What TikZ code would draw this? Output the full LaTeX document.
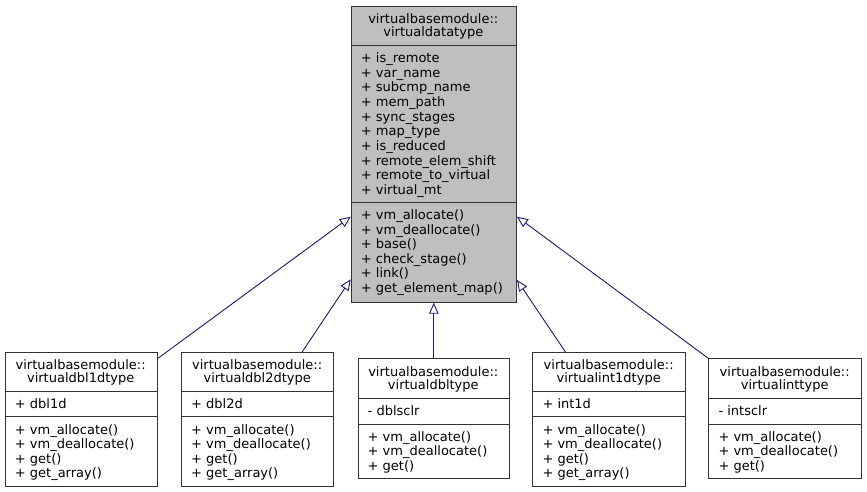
\documentclass[tikz,border=0pt]{standalone}
\usepackage{fontspec}
\setmainfont{DejaVu Sans}
\usetikzlibrary{arrows.meta}
\definecolor{edgeblue}{HTML}{191970}
\definecolor{hdrgray}{HTML}{BFBFBF}
\definecolor{bordercol}{HTML}{333333}
\tikzset{
  classbox/.style={draw=bordercol, line width=1pt, inner sep=0pt, anchor=north west},
  divider/.style={draw=bordercol, line width=1pt},
  lbl/.style={inner sep=0pt, font=\fontsize{13}{15}\selectfont},
  inherit/.style={draw=edgeblue, line width=0.9pt, -{Triangle[open, length=11pt, width=9.5pt]}},
}
\begin{document}
\begin{tikzpicture}[x=1pt,y=-1pt]
\useasboundingbox (0,0) rectangle (867,492);

% ---------------- base class ----------------
\node[classbox, fill=hdrgray, minimum width=165.3pt, minimum height=296pt] (base) at (350.7,5.7) {};
\draw[divider] (350.7,45.7) -- (516,45.7);
\draw[divider] (350.7,202.3) -- (516,202.3);
\node[lbl, anchor=base] (baseh1) at (433.3,23.8) {virtualbasemodule::};
\node[lbl, anchor=base] (baseh2) at (433.3,36.8) {virtualdatatype};
\foreach \t [count=\i from 0] in {{+ is\_remote},{+ var\_name},{+ subcmp\_name},{+ mem\_path},{+ sync\_stages},{+ map\_type},{+ is\_reduced},{+ remote\_elem\_shift},{+ remote\_to\_virtual},{+ virtual\_mt}}
  \node[lbl, anchor=base west] (basea\i) at (360.7,62.5+\i*14.65) {\t};
\foreach \t [count=\i from 0] in {{+ vm\_allocate()},{+ vm\_deallocate()},{+ base()},{+ check\_stage()},{+ link()},{+ get\_element\_map()}}
  \node[lbl, anchor=base west] (basem\i) at (360.7,219.5+\i*14.6) {\t};

% ---------------- virtualdbl1dtype ----------------
\node[classbox, fill=white, minimum width=152pt, minimum height=133.7pt] (c1) at (4.7,352) {};
\draw[divider] (4.7,391.5) -- (156.7,391.5);
\draw[divider] (4.7,416.7) -- (156.7,416.7);
\node[lbl, anchor=base] (c1h1) at (80.7,369.8) {virtualbasemodule::};
\node[lbl, anchor=base] (c1h2) at (80.7,382.8) {virtualdbl1dtype};
\node[lbl, anchor=base west] (c1a0) at (14.7,408.5) {+ dbl1d};
\foreach \t [count=\i from 0] in {{+ vm\_allocate()},{+ vm\_deallocate()},{+ get()},{+ get\_array()}}
  \node[lbl, anchor=base west] (c1m\i) at (14.7,434+\i*14.5) {\t};

% ---------------- virtualdbl2dtype ----------------
\node[classbox, fill=white, minimum width=152.3pt, minimum height=133.7pt] (c2) at (181,352) {};
\draw[divider] (181,391.5) -- (333.3,391.5);
\draw[divider] (181,416.7) -- (333.3,416.7);
\node[lbl, anchor=base] (c2h1) at (257.2,369.8) {virtualbasemodule::};
\node[lbl, anchor=base] (c2h2) at (257.2,382.8) {virtualdbl2dtype};
\node[lbl, anchor=base west] (c2a0) at (191,408.5) {+ dbl2d};
\foreach \t [count=\i from 0] in {{+ vm\_allocate()},{+ vm\_deallocate()},{+ get()},{+ get\_array()}}
  \node[lbl, anchor=base west] (c2m\i) at (191,434+\i*14.5) {\t};

% ---------------- virtualdbltype ----------------
\node[classbox, fill=white, minimum width=151.6pt, minimum height=120pt] (c3) at (357.5,358.3) {};
\draw[divider] (357.5,398.3) -- (509.1,398.3);
\draw[divider] (357.5,424) -- (509.1,424);
\node[lbl, anchor=base] (c3h1) at (433.3,376.1) {virtualbasemodule::};
\node[lbl, anchor=base] (c3h2) at (433.3,389.1) {virtualdbltype};
\node[lbl, anchor=base west] (c3a0) at (367.5,415.3) {- dblsclr};
\foreach \t [count=\i from 0] in {{+ vm\_allocate()},{+ vm\_deallocate()},{+ get()}}
  \node[lbl, anchor=base west] (c3m\i) at (367.5,441.3+\i*14.5) {\t};

% ---------------- virtualint1dtype ----------------
\node[classbox, fill=white, minimum width=152.7pt, minimum height=133.7pt] (c4) at (532.3,352) {};
\draw[divider] (532.3,391.5) -- (685,391.5);
\draw[divider] (532.3,416.7) -- (685,416.7);
\node[lbl, anchor=base] (c4h1) at (608.7,369.8) {virtualbasemodule::};
\node[lbl, anchor=base] (c4h2) at (608.7,382.8) {virtualint1dtype};
\node[lbl, anchor=base west] (c4a0) at (542.3,408.5) {+ int1d};
\foreach \t [count=\i from 0] in {{+ vm\_allocate()},{+ vm\_deallocate()},{+ get()},{+ get\_array()}}
  \node[lbl, anchor=base west] (c4m\i) at (542.3,434+\i*14.5) {\t};

% ---------------- virtualinttype ----------------
\node[classbox, fill=white, minimum width=152.7pt, minimum height=120pt] (c5) at (708.3,358.3) {};
\draw[divider] (708.3,398.3) -- (861,398.3);
\draw[divider] (708.3,424) -- (861,424);
\node[lbl, anchor=base] (c5h1) at (784.7,376.1) {virtualbasemodule::};
\node[lbl, anchor=base] (c5h2) at (784.7,389.1) {virtualinttype};
\node[lbl, anchor=base west] (c5a0) at (718.3,415.3) {- intsclr};
\foreach \t [count=\i from 0] in {{+ vm\_allocate()},{+ vm\_deallocate()},{+ get()}}
  \node[lbl, anchor=base west] (c5m\i) at (718.3,441.3+\i*14.5) {\t};

% ---------------- inheritance connectors ----------------
\coordinate (e1s) at ([yshift=-6.5pt]c1.north east);
\coordinate (e1t) at ([yshift=86pt]base.south west);
\coordinate (e2s) at ([xshift=44.5pt]c2.north);
\coordinate (e2t) at ([yshift=23.4pt]base.south west);
\coordinate (e4s) at ([xshift=-43.7pt]c4.north);
\coordinate (e4t) at ([yshift=22.7pt]base.south east);
\coordinate (e5t) at ([yshift=86pt]base.south east);
\draw[inherit] (e1s) -- (e1t);
\draw[inherit] (e2s) -- (e2t);
\draw[inherit] (c3.north) -- (c3.north |- base.south);
\draw[inherit] (e4s) -- (e4t);
\draw[inherit] (c5.north west) -- (e5t);
\end{tikzpicture}
\end{document}
